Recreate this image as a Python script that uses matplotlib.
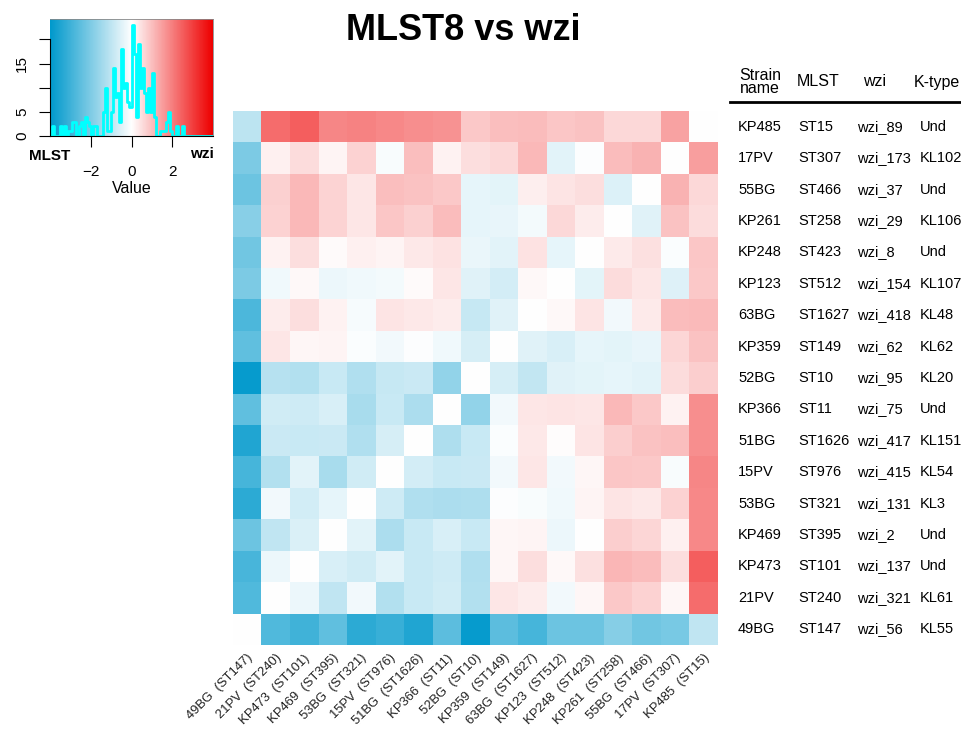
import numpy as np
import matplotlib
matplotlib.use('Agg')
import matplotlib.pyplot as plt
from matplotlib.colors import LinearSegmentedColormap
from matplotlib.transforms import blended_transform_factory

plt.rcParams['font.family'] = ['Liberation Sans', 'DejaVu Sans']

# table / row info (heatmap rows, top to bottom)
strain = ['KP485', '17PV', '55BG', 'KP261', 'KP248', 'KP123', '63BG', 'KP359', '52BG',
          'KP366', '51BG', '15PV', '53BG', 'KP469', 'KP473', '21PV', '49BG']
mlst = ['ST15', 'ST307', 'ST466', 'ST258', 'ST423', 'ST512', 'ST1627', 'ST149', 'ST10',
        'ST11', 'ST1626', 'ST976', 'ST321', 'ST395', 'ST101', 'ST240', 'ST147']
wzi = ['wzi_89', 'wzi_173', 'wzi_37', 'wzi_29', 'wzi_8', 'wzi_154', 'wzi_418', 'wzi_62', 'wzi_95',
       'wzi_75', 'wzi_417', 'wzi_415', 'wzi_131', 'wzi_2', 'wzi_137', 'wzi_321', 'wzi_56']
ktype = ['Und', 'KL102', 'Und', 'KL106', 'Und', 'KL107', 'KL48', 'KL62', 'KL20',
         'Und', 'KL151', 'KL54', 'KL3', 'Und', 'Und', 'KL61', 'KL55']

# columns are the rows in reverse order
col_labels = ['%s  (%s)' % (s, m) for s, m in zip(strain[::-1], mlst[::-1])]

# values (negative = MLST side, positive = wzi side)
values = np.array([
    [-1.05, 2.3, 2.5, 1.9, 1.95, 1.85, 1.75, 1.7, 0.85, 1.0, 1.05, 0.9, 0.95, 0.6, 0.62, 1.45, 0.0],
    [-2.05, 0.22, 0.55, 0.18, 0.7, -0.12, 1.0, 0.2, 0.52, 0.6, 1.1, -0.45, -0.06, 1.05, 1.2, 0.0, 1.5],
    [-2.3, 0.72, 1.1, 0.68, 0.38, 1.0, 0.95, 0.85, -0.38, -0.42, 0.28, 0.42, 0.5, -0.55, 0.0, 1.2, 0.6],
    [-1.85, 0.7, 1.12, 0.66, 0.4, 0.9, 0.74, 1.05, -0.4, -0.36, -0.18, 0.6, 0.3, 0.0, -0.5, 0.95, 0.55],
    [-2.2, 0.2, 0.5, 0.08, 0.24, 0.16, 0.36, 0.44, -0.33, -0.46, 0.45, -0.4, 0.0, 0.34, 0.47, -0.09, 0.9],
    [-2.05, -0.22, 0.12, -0.3, -0.24, -0.16, 0.07, 0.4, -0.5, -0.66, 0.11, 0.0, -0.42, 0.55, 0.38, -0.52, 0.85],
    [-2.8, 0.3, 0.5, 0.2, -0.14, 0.42, 0.37, 0.3, -0.9, -0.48, 0.0, 0.1, 0.41, -0.2, 0.32, 1.05, 1.08],
    [-2.5, 0.4, 0.15, 0.16, -0.08, -0.2, -0.06, -0.23, -0.65, 0.0, -0.5, -0.62, -0.39, -0.43, -0.37, 0.65, 0.95],
    [-3.9, -1.15, -1.2, -0.85, -1.25, -0.88, -0.82, -1.7, 0.0, -0.64, -0.95, -0.5, -0.41, -0.38, -0.44, 0.55, 0.75],
    [-2.5, -0.75, -0.78, -0.6, -1.35, -0.86, -1.3, 0.0, -1.7, -0.2, 0.39, 0.43, 0.4, 1.1, 0.85, 0.2, 1.75],
    [-3.5, -0.84, -0.87, -0.83, -1.25, -0.65, 0.0, -1.26, -0.85, -0.09, 0.37, 0.04, 0.43, 0.75, 0.95, 1.0, 1.75],
    [-2.9, -1.2, -0.45, -1.35, -0.75, 0.0, -0.67, -0.86, -0.84, -0.21, 0.4, -0.19, 0.15, 0.9, 0.85, -0.11, 1.9],
    [-3.3, -0.2, -0.7, -0.4, 0.0, -0.76, -1.24, -1.3, -1.27, -0.06, -0.1, -0.22, 0.17, 0.41, 0.36, 0.7, 1.85],
    [-2.3, -1.0, -0.58, 0.0, -0.45, -1.31, -0.85, -0.61, -0.87, 0.14, 0.16, -0.3, 0.03, 0.75, 0.65, 0.22, 1.85],
    [-2.85, -0.3, 0.0, -0.6, -0.74, -0.46, -0.85, -0.76, -1.25, 0.13, 0.5, 0.1, 0.48, 1.15, 1.05, 0.5, 2.5],
    [-2.75, 0.0, -0.31, -1.0, -0.2, -1.2, -0.86, -0.73, -1.2, 0.39, 0.3, -0.2, 0.15, 0.85, 0.7, 0.14, 2.3],
    [0.0, -2.75, -3.0, -2.5, -3.3, -3.1, -3.5, -2.55, -3.9, -2.55, -2.9, -2.3, -2.3, -1.9, -2.2, -2.1, -1.0],
])

W, H = 961, 732
cmap = LinearSegmentedColormap.from_list('bwr_key', ['#0099CC', '#FFFFFF', '#EE0000'])
vmin, vmax = -4, 4


def rect(l, t, r, b):
    return [l / W, 1 - b / H, (r - l) / W, (b - t) / H]


fig = plt.figure(figsize=(W / 100, H / 100), dpi=100)

# heatmap
ax = fig.add_axes(rect(233, 111, 718, 645))
ax.imshow(values, cmap=cmap, vmin=vmin, vmax=vmax, aspect='auto', interpolation='nearest')
ax.axis('off')
n = len(strain)
for j, lab in enumerate(col_labels):
    ax.text(j - 0.02, n - 0.5 + 0.22, lab, rotation=45, rotation_mode='anchor',
            ha='right', va='top', fontsize=9.4, color='#222222')

# title
fig.text(463 / W, 1 - 30 / H, 'MLST8 vs wzi', ha='center', va='center',
         fontsize=26, fontweight='bold')

# color key with histogram
kax = fig.add_axes(rect(50, 19, 213, 136))
bins = np.linspace(vmin, vmax, 81)
counts, edges = np.histogram(values.ravel(), bins=bins)
ytop = counts.max() / 0.95
grad = np.linspace(vmin, vmax, 300).reshape(1, -1)
kax.imshow(grad, cmap=cmap, vmin=vmin, vmax=vmax, aspect='auto',
           extent=[vmin, vmax, 0, ytop], origin='lower')
kax.step(edges, np.append(counts, counts[-1]), where='post', color='cyan', lw=2)
kax.set_xlim(vmin, vmax)
kax.set_ylim(0, ytop)
kax.set_xticks([-2, 0, 2])
kax.set_xticklabels(['\u22122', '0', '2'], fontsize=11)
yt = [0, 5, 10, 15, 20]
kax.set_yticks(yt)
kax.set_yticklabels(['0', '5', '', '15', ''], rotation=90, va='center', fontsize=11)
kax.tick_params(axis='x', length=8, pad=13)
kax.tick_params(axis='y', length=8, pad=7)
for s in ['top', 'right']:
    kax.spines[s].set_color('#888888')
    kax.spines[s].set_linewidth(0.6)
kax.spines['left'].set_bounds(0, 20)
kax.set_xlabel('Value', fontsize=11.5, labelpad=1)
fig.text(50 / W, 1 - 156 / H, 'MLST', ha='center', va='center', fontsize=11, fontweight='bold')
fig.text(202 / W, 1 - 154 / H, 'wzi', ha='center', va='center', fontsize=11, fontweight='bold')

# table on the right
hdr_y = 1 - 82 / H
fig.text(760 / W, hdr_y, 'Strain\nname', ha='center', va='center', fontsize=11.5, linespacing=0.85)
fig.text(818 / W, hdr_y, 'MLST', ha='center', va='center', fontsize=11.5)
fig.text(875 / W, hdr_y, 'wzi', ha='center', va='center', fontsize=11.5)
fig.text(937 / W, hdr_y, 'K-type', ha='center', va='center', fontsize=11.5)
fig.add_artist(plt.Line2D([730 / W, 1.0], [1 - 102 / H, 1 - 102 / H], color='black',
                          lw=2, transform=fig.transFigure))

tr = blended_transform_factory(fig.transFigure, ax.transData)
col_x = [738, 798, 857, 920]
for i in range(n):
    for x, txt in zip(col_x, [strain[i], mlst[i], wzi[i], ktype[i]]):
        fig.text(x / W, i, txt, transform=tr, ha='left', va='center', fontsize=10.5)

fig.savefig('out.png', dpi=100)
